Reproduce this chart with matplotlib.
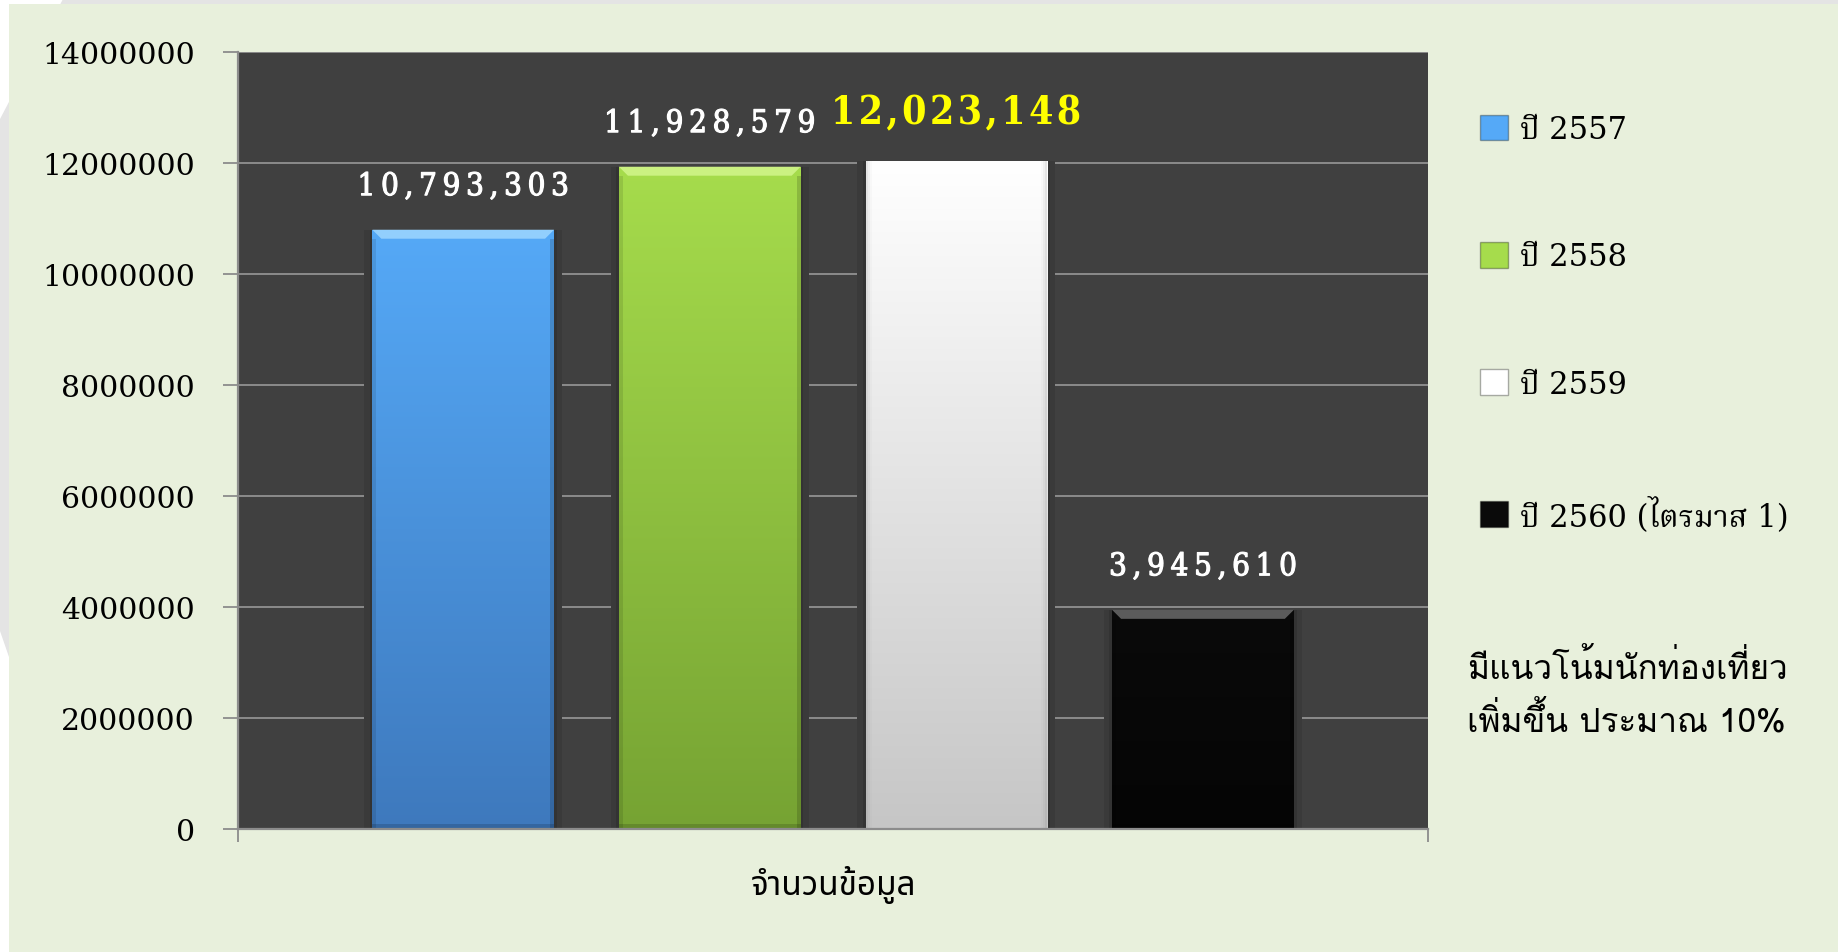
import matplotlib
matplotlib.use("Agg")
import numpy as np
import matplotlib.pyplot as plt
from matplotlib.patches import Polygon, Rectangle
from matplotlib.colors import LinearSegmentedColormap
import matplotlib.patheffects as pe

# ---------------- data ----------------
category = "จำนวนข้อมูล"
series_names = ["ปี 2557", "ปี 2558", "ปี 2559", "ปี 2560 (ไตรมาส 1)"]
values = [10793303, 11928579, 12023148, 3945610]
value_labels = ["10,793,303", "11,928,579", "12,023,148", "3,945,610"]
y_ticks = [0, 2000000, 4000000, 6000000, 8000000, 10000000, 12000000, 14000000]
note_text = "มีแนวโน้มนักท่องเที่ยว\nเพิ่มขึ้น ประมาณ 10%"

# ---------------- styles ----------------
top_colors = ["#55A9F7", "#A6DC4C", "#FFFFFF", "#0A0A0A"]
bot_colors = ["#3E79BD", "#76A333", "#C6C6C6", "#050505"]
bevel_colors = ["#9ED6FF", "#D2F58C", "#FFFFFF", "#6A6A6A"]
label_colors = ["white", "white", "#FFFF00", "white"]
label_sizes = [22.5, 22.5, 28, 22.5]
label_weights = ["normal", "normal", "bold", "normal"]
label_gaps = ["\u2009", "\u2009", "\u200a", "\u2009"]
label_offsets = [31, 31, 35, 31]

W, H = 1838, 953
fig = plt.figure(figsize=(W / 100, H / 100), dpi=100, facecolor="white")

# background decoration (grey frame + light green panel)
grey = Polygon([(63 / W, 1), (1, 1), (1, 1 - 6 / H), (9 / W, 1 - 6 / H),
                (9 / W, 1 - 658 / H), (0, 1 - 632 / H), (0, 1 - 120 / H)],
               closed=True, transform=fig.transFigure, facecolor="#E4E4E4",
               edgecolor="none", zorder=0)
fig.add_artist(grey)
panel = Rectangle((9 / W, 0), 1 - 9 / W, 1 - 5 / H, transform=fig.transFigure,
                  facecolor="#E8F0DC", edgecolor="none", zorder=0)
fig.add_artist(panel)

ax = fig.add_axes([0.1295, 0.1292, 0.6475, 0.8155], zorder=2)
ax.set_facecolor("#404040")

slot = 0.2072
bar_w = 0.1527
xs = (np.arange(len(values)) - (len(values) - 1) / 2) * slot
ymax = 14000000

# soft shadow behind each bar (interrupts grid lines like the original)
ax.bar(xs, values, width=bar_w * 1.09, color="#3A3A3A", zorder=2)
ax.bar(xs, values, width=bar_w * 1.03, color="#333333", zorder=2.1)

bars = []
for i in range(len(values)):
    b = ax.bar(xs[i], values[i], width=bar_w, color=top_colors[i],
               label=series_names[i], zorder=3, linewidth=0)
    bars.append(b)
    patch = b.patches[0]
    cmap = LinearSegmentedColormap.from_list("g%d" % i, [bot_colors[i], top_colors[i]])
    grad = np.linspace(0, 1, 256).reshape(-1, 1)
    im = ax.imshow(grad, cmap=cmap, aspect="auto", origin="lower",
                   extent=[xs[i] - bar_w / 2, xs[i] + bar_w / 2, 0, values[i]],
                   zorder=3.1, interpolation="bicubic")
    im.set_clip_path(patch)

ax.set_xlim(-0.5, 0.5)
ax.set_ylim(0, ymax)

# bevel on top of bars and darker side edges
fig.canvas.draw()
bb = ax.get_window_extent()
px_x = bb.width / 1.0
px_y = bb.height / ymax
bev = 9
for i in range(len(values)):
    x0 = xs[i] - bar_w / 2
    x1 = xs[i] + bar_w / 2
    top = values[i]
    if i == 2:
        # white bar: soft grey inner edges
        for k, a in enumerate([0.10, 0.07, 0.04]):
            dx = (k + 1) * 2 / px_x
            ax.add_patch(Rectangle((x0, 0), dx, top, facecolor="#808080", alpha=a,
                                   zorder=3.3, linewidth=0))
            ax.add_patch(Rectangle((x1 - dx, 0), dx, top, facecolor="#808080", alpha=a,
                                   zorder=3.3, linewidth=0))
        continue
    ddx = bev / px_x
    ddy = bev / px_y
    ax.add_patch(Polygon([(x0, top), (x1, top), (x1 - ddx, top - ddy), (x0 + ddx, top - ddy)],
                         closed=True, facecolor=bevel_colors[i], edgecolor="none",
                         alpha=0.85, zorder=3.4))
    sx = 4 / px_x
    ax.add_patch(Rectangle((x0, 0), sx, top - ddy, facecolor="black", alpha=0.10,
                           zorder=3.3, linewidth=0))
    ax.add_patch(Rectangle((x1 - sx, 0), sx, top - ddy, facecolor="black", alpha=0.15,
                           zorder=3.3, linewidth=0))
    ax.add_patch(Rectangle((x0, 0), bar_w, 5 / px_y, facecolor="black", alpha=0.15,
                           zorder=3.3, linewidth=0))

# value labels (letter-spaced serif)
for i in range(len(values)):
    txt = label_gaps[i].join(value_labels[i])
    t = ax.annotate(txt, xy=(xs[i], values[i]), xytext=(0, label_offsets[i]),
                    textcoords="offset points", ha="center", va="center",
                    color=label_colors[i], fontsize=label_sizes[i],
                    fontweight=label_weights[i], family=["DejaVu Serif"],
                    fontstretch="condensed", zorder=5, annotation_clip=False)
    if label_weights[i] == "normal":
        t.set_path_effects([pe.withStroke(linewidth=0.8, foreground=label_colors[i])])

# axes styling
grid_c = "#8C8C8C"
ax.set_yticks(y_ticks)
ax.set_yticklabels([str(v) for v in y_ticks], family=["DejaVu Serif"], fontsize=21.5)
ax.yaxis.grid(True, color=grid_c, linewidth=1.4, zorder=1)
ax.set_axisbelow(True)
ax.tick_params(axis="y", direction="out", length=11, width=1.3, color=grid_c, pad=20)
for s in ["top", "right"]:
    ax.spines[s].set_visible(False)
for s in ["left", "bottom"]:
    ax.spines[s].set_color(grid_c)
    ax.spines[s].set_linewidth(1.6)
    ax.spines[s].set_zorder(4)

ax.set_xticks([0])
ax.set_xticklabels([category], family=["Noto Sans Thai", "DejaVu Sans"], fontsize=24,
                   fontstretch="condensed")
ax.tick_params(axis="x", which="major", length=0, pad=26)
ax.set_xticks([-0.5, 0.5], minor=True)
ax.tick_params(axis="x", which="minor", direction="out", length=9, width=1.3, color=grid_c)

# legend
leg = fig.legend(handles=[b.patches[0] for b in bars], labels=series_names,
                 loc="center left", bbox_to_anchor=(1480 / W, 1 - 324 / H),
                 bbox_transform=fig.transFigure, frameon=False,
                 prop={"family": ["DejaVu Serif", "Noto Serif Thai"], "size": 22},
                 handlelength=0.92, handleheight=0.92, handletextpad=0.4,
                 labelspacing=3.15, borderpad=0, borderaxespad=0)
for h in leg.legend_handles:
    h.set_edgecolor("#00000050")
    h.set_linewidth(1.0)

# note text
fig.text(1467 / W, 1 - 694 / H, note_text, ha="left", va="center",
         family=["Loma", "DejaVu Sans"], fontsize=24, linespacing=1.55)

fig.savefig("out.png", dpi=100, facecolor=fig.get_facecolor())
